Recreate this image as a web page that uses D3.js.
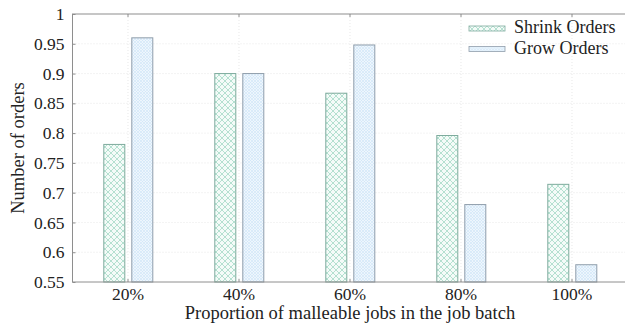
<!DOCTYPE html>
<html>
<head>
<meta charset="utf-8">
<script src="https://cdn.jsdelivr.net/npm/d3@7"></script>
<style>
  body { margin: 0; background: #fff; }
  svg { display: block; font-family: "Liberation Serif", serif; }
</style>
</head>
<body>
<svg id="chart" width="625" height="328"></svg>
<script>
// data
var categories = ["20%", "40%", "60%", "80%", "100%"];
var seriesNames = ["Shrink Orders", "Grow Orders"];
var shrinkValues = [0.781, 0.900, 0.867, 0.796, 0.714];
var growValues = [0.960, 0.900, 0.948, 0.680, 0.579];
var yTicks = [0.55, 0.6, 0.65, 0.7, 0.75, 0.8, 0.85, 0.9, 0.95, 1];

var svg = d3.select("#chart");
var padL = 72.5, padR = 627.5, padT = 14, padB = 282;
var fontFam = "'Liberation Serif', serif";

var defs = svg.append("defs");
// crosshatch for shrink
var pShrink = defs.append("pattern").attr("id", "hatchShrink")
  .attr("patternUnits", "userSpaceOnUse").attr("width", 6).attr("height", 6);
pShrink.append("rect").attr("width", 6).attr("height", 6).attr("fill", "#f4fbf8");
pShrink.append("path").attr("d", "M0,0L6,6M6,0L0,6M-1,5L1,7M5,-1L7,1M-1,1L1,-1M5,7L7,5")
  .attr("stroke", "#a3d9c5").attr("stroke-width", 0.8).attr("fill", "none");
// fine crosshatch for grow
var pGrow = defs.append("pattern").attr("id", "hatchGrow")
  .attr("patternUnits", "userSpaceOnUse").attr("width", 3).attr("height", 3);
pGrow.append("rect").attr("width", 3).attr("height", 3).attr("fill", "#eef6fd");
pGrow.append("path").attr("d", "M0,0L3,3M3,0L0,3")
  .attr("stroke", "#cde4f6").attr("stroke-width", 0.6).attr("fill", "none");

var fills = ["url(#hatchShrink)", "url(#hatchGrow)"];
var strokes = ["#7eab9d", "#8f9dab"];

var x = d3.scaleBand().domain(categories).range([padL, padR]).padding(0);
var xSub = d3.scaleBand().domain(seriesNames).range([30.8, 80.8]).paddingInner(0.214).paddingOuter(0);
var y = d3.scaleLinear().domain([0.55, 1]).range([padB, padT]);

// grid
var grid = svg.append("g");
grid.selectAll("line.h").data(yTicks.slice(1, -1)).enter().append("line")
  .attr("x1", padL).attr("x2", padR)
  .attr("y1", function(d) { return y(d); }).attr("y2", function(d) { return y(d); })
  .attr("stroke", "#d9d9d9").attr("stroke-width", 0.6).attr("stroke-dasharray", "1,2");
grid.selectAll("line.v").data(categories).enter().append("line")
  .attr("x1", function(d) { return x(d) + x.bandwidth() / 2; })
  .attr("x2", function(d) { return x(d) + x.bandwidth() / 2; })
  .attr("y1", padT).attr("y2", padB)
  .attr("stroke", "#d9d9d9").attr("stroke-width", 0.6).attr("stroke-dasharray", "1,2");

// bars
var series = [shrinkValues, growValues];
series.forEach(function(vals, si) {
  svg.append("g").selectAll("rect").data(vals).enter().append("rect")
    .attr("x", function(d, i) { return x(categories[i]) + xSub(seriesNames[si]) + 0.5; })
    .attr("y", function(d) { return y(d); })
    .attr("width", xSub.bandwidth() - 1)
    .attr("height", function(d) { return padB - y(d); })
    .attr("fill", fills[si])
    .attr("stroke", strokes[si]).attr("stroke-width", 1);
});

// frame
svg.append("rect").attr("x", padL).attr("y", padT)
  .attr("width", padR - padL).attr("height", padB - padT)
  .attr("fill", "none").attr("stroke", "#8e8e8e").attr("stroke-width", 1);

// axes
var yAxis = d3.axisLeft(y).tickValues(yTicks).tickSizeInner(-3).tickSizeOuter(0)
  .tickPadding(8).tickFormat(function(d) { return String(+d.toFixed(2)); });
var gy = svg.append("g").attr("transform", "translate(" + padL + ",0)").call(yAxis)
  .attr("font-family", fontFam).attr("font-size", 17.5);
gy.select(".domain").remove();
gy.selectAll("line").attr("stroke", "#8e8e8e");
gy.selectAll("text").attr("fill", "#222");

var xAxis = d3.axisBottom(x).tickSizeInner(-3).tickSizeOuter(0).tickPadding(6);
var gx = svg.append("g").attr("transform", "translate(0," + padB + ")").call(xAxis)
  .attr("font-family", fontFam).attr("font-size", 17.5);
gx.select(".domain").remove();
gx.selectAll("line").attr("stroke", "#8e8e8e");
gx.selectAll("text").attr("fill", "#222");

var xTop = d3.axisTop(x).tickSizeInner(-3).tickSizeOuter(0).tickFormat("");
var gt = svg.append("g").attr("transform", "translate(0," + padT + ")").call(xTop);
gt.select(".domain").remove();
gt.selectAll("line").attr("stroke", "#8e8e8e");

// axis titles
svg.append("text").attr("x", (padL + padR) / 2).attr("y", 319)
  .attr("font-family", fontFam)
  .attr("text-anchor", "middle").attr("font-size", 18.5).attr("fill", "#222")
  .text("Proportion of malleable jobs in the job batch");
svg.append("text").attr("transform", "translate(24," + ((padT + padB) / 2) + ") rotate(-90)")
  .attr("font-family", fontFam)
  .attr("text-anchor", "middle").attr("font-size", 18.5).attr("fill", "#222")
  .text("Number of orders");

// legend
var legend = svg.append("g").selectAll("g").data(seriesNames).enter().append("g")
  .attr("transform", function(d, i) { return "translate(469," + (26 + i * 20.5) + ")"; });
legend.append("rect").attr("width", 36).attr("height", 5)
  .attr("fill", function(d, i) { return fills[i]; })
  .attr("stroke", function(d, i) { return strokes[i]; }).attr("stroke-width", 0.8);
legend.append("text").attr("x", 45).attr("y", 7)
  .attr("font-family", fontFam)
  .attr("font-size", 18).attr("fill", "#222")
  .text(function(d) { return d; });
</script>
</body>
</html>
